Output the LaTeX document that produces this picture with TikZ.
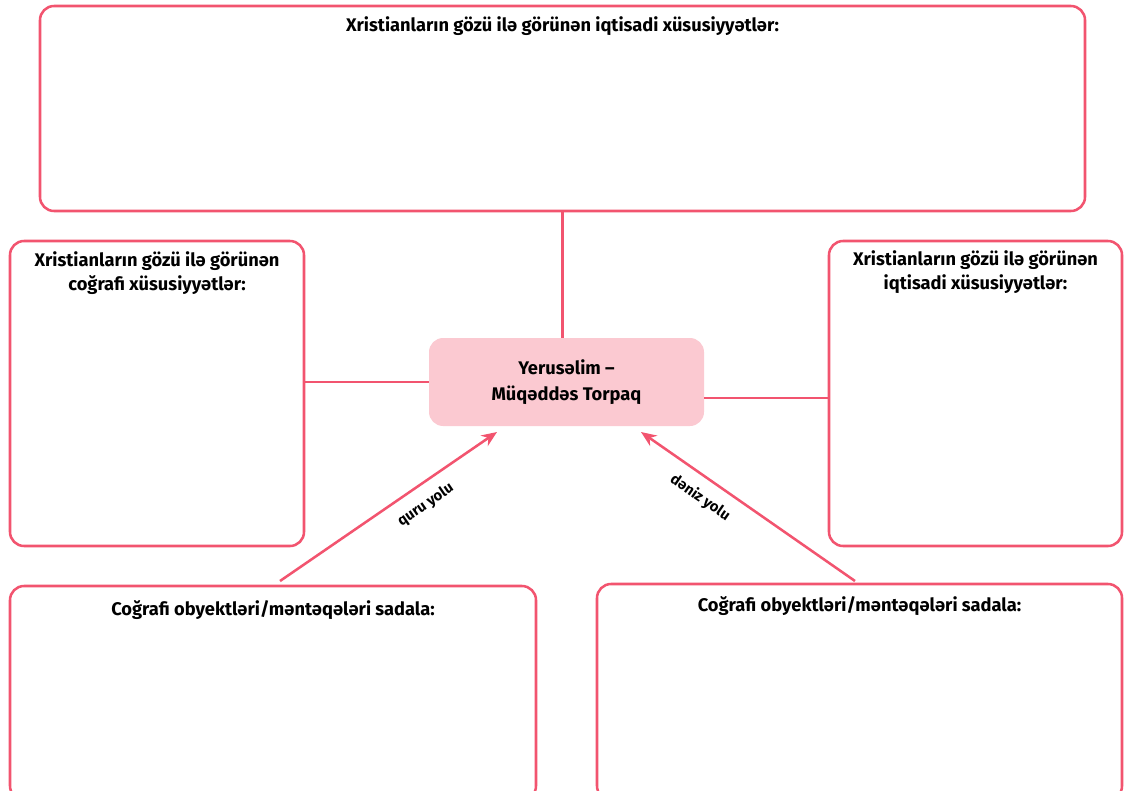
\documentclass[tikz,border=0pt]{standalone}
\usepackage{fontspec}
\setmainfont{Fira Sans}
\usetikzlibrary{positioning,fit,calc,arrows.meta}
\definecolor{linkred}{HTML}{F2546F}
\definecolor{centerpink}{HTML}{FBC9D1}

\begin{document}
\begin{tikzpicture}[x=0.025cm,y=-0.025cm,
                       box/.style={draw=linkred,line width=1.8pt,rounded corners=10pt,inner sep=0pt},
                       title/.style={align=center,font=\fontsize{13}{17}\selectfont\bfseries,inner sep=0pt},
                       link/.style={draw=linkred,line width=1.8pt},
                       route/.style={link,-{Stealth[length=11pt,width=9pt]}},
                       routelabel/.style={font=\fontsize{10.5}{12}\selectfont\bfseries,sloped,inner sep=8pt}
                      ]
  \useasboundingbox (0,0) rectangle (1125,790);
  % boxes
  \node[box,fit={(40,6) (1085,211)}] (econtop) {};
  \node[box,fit={(10,241) (304,546)}] (geoleft) {};
  \node[box,fit={(829,241) (1122,546)}] (econright) {};
  \node[box,fit={(10,586) (536,800)}] (landlist) {};
  \node[box,fit={(597,584) (1122,800)}] (sealist) {};
  \node[fill=centerpink,rounded corners=10pt,inner sep=0pt,fit={(429,338) (704,426)}] (jerus) {};
  % texts
  \node[title,below=0.3cm of econtop.north] {Xristianların gözü ilə görünən iqtisadi xüsusiyyətlər:};
  \node[title,below=0.3cm of geoleft.north] {Xristianların gözü ilə görünən\\coğrafi xüsusiyyətlər:};
  \node[title,below=0.27cm of econright.north] {Xristianların gözü ilə görünən\\iqtisadi xüsusiyyətlər:};
  \node[title,below=0.38cm of landlist.north] {Coğrafi obyektləri/məntəqələri sadala:};
  \node[title,below=0.34cm of sealist.north] {Coğrafi obyektləri/məntəqələri sadala:};
  \node[title,font=\fontsize{13}{18.5}\selectfont\bfseries] at (jerus) {Yerusəlim –\\Müqəddəs Torpaq};
  % routes
  \coordinate (q1) at (280,581);
  \coordinate (q2) at (497,432);
  \coordinate (d1) at (855,581);
  \coordinate (d2) at (641,432);
    \path%
      (econtop.south) edge [link] (econtop.south |- jerus.north)
      (geoleft.east |- jerus.west) edge [link] (jerus.west)
      ([yshift=-0.4cm]jerus.east) edge [link] ([yshift=-0.4cm]jerus.east -| econright.west)
      (q1) edge [route] node [routelabel,pos=0.62,below] {quru yolu} (q2)
      (d1) edge [route] node [routelabel,pos=0.67,below] {dəniz yolu} (d2);
   \end{tikzpicture}
\end{document}
